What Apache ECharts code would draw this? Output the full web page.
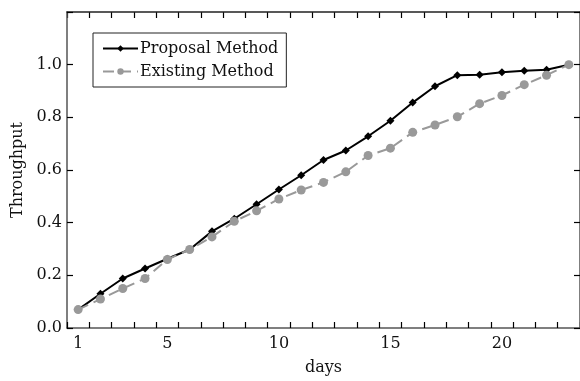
<!DOCTYPE html>
<html>
<head>
<meta charset="utf-8">
<script src="https://cdn.jsdelivr.net/npm/echarts@6/dist/echarts.min.js"></script>
<style>html,body{margin:0;padding:0;background:#fff}#c{width:580px;height:381px}</style>
</head>
<body>
<div id="c"></div>
<script>
const days = ['1','2','3','4','5','6','7','8','9','10','11','12','13','14','15','16','17','18','19','20','21','22','23'];
const xTickLabels = ['1','5','10','15','20'];
const proposal = [0.07,0.13,0.188,0.226,0.263,0.298,0.367,0.415,0.47,0.526,0.58,0.638,0.674,0.728,0.787,0.856,0.918,0.96,0.962,0.971,0.977,0.981,1.0];
const existing = [0.07,0.11,0.15,0.188,0.26,0.298,0.346,0.405,0.445,0.49,0.524,0.553,0.593,0.655,0.683,0.743,0.771,0.802,0.852,0.883,0.924,0.96,1.0];

const FONT = 'DejaVu Serif';
const axisCol = '#555';
const chart = echarts.init(document.getElementById('c'), null, {renderer:'canvas'});
chart.setOption({
  animation: false,
  backgroundColor: '#fff',
  textStyle: {fontFamily: FONT},
  grid: [
    {left: 67, right: 0, top: 12, bottom: 50, containLabel: false},
    {left: 67, right: 0, top: 12, height: 6, containLabel: false}
  ],
  legend: {
    orient: 'vertical', left: 93, top: 33,
    padding: [6, 8, 6, 9],
    itemGap: 4, itemWidth: 35, itemHeight: 8,
    borderColor: '#222', borderWidth: 1,
    textStyle: {fontFamily: FONT, fontSize: 16, color: '#111', lineHeight: 19, padding: [0,0,0,-3]},
    data: ['Proposal Method', 'Existing Method']
  },
  xAxis: [{
    gridIndex: 0,
    type: 'category', data: days, boundaryGap: true,
    name: 'days', nameLocation: 'middle', nameGap: 32,
    nameTextStyle: {fontFamily: FONT, fontSize: 16, color: '#111'},
    axisLine: {onZero: false, lineStyle: {color: axisCol, width: 1.5}},
    axisTick: {show: true, inside: true, length: 6, interval: 0, lineStyle: {color: '#000', width: 1.2}},
    axisLabel: {
      interval: function(i, v){ return xTickLabels.indexOf(v) >= 0; },
      fontFamily: FONT, fontSize: 16, color: '#111', margin: 8
    },
    splitLine: {show: false}
  },{
    gridIndex: 1,
    type: 'category', data: days, boundaryGap: true, position: 'top',
    axisLine: {show: true, onZero: false, lineStyle: {color: '#222', width: 1.5}},
    axisTick: {show: false},
    axisLabel: {show: false},
    splitLine: {show: true, interval: 0, lineStyle: {color: '#000', width: 1.2}}
  }],
  yAxis: [{
    gridIndex: 0,
    type: 'value', min: 0, max: 1.2, interval: 0.2,
    name: 'Throughput', nameLocation: 'middle', nameGap: 40,
    nameTextStyle: {fontFamily: FONT, fontSize: 16, color: '#111'},
    axisLine: {show: true, onZero: false, lineStyle: {color: axisCol, width: 1.5}},
    axisTick: {show: true, inside: true, length: 6, lineStyle: {color: '#000', width: 1.2}},
    axisLabel: {
      fontFamily: FONT, fontSize: 16, color: '#111', margin: 5,
      formatter: function(v){ return v > 1.1 ? '' : v.toFixed(1); }
    },
    splitLine: {show: false}
  },{
    gridIndex: 0,
    type: 'value', min: 0, max: 1.2, interval: 0.2, position: 'right',
    axisLine: {show: true, onZero: false, lineStyle: {color: axisCol, width: 1.5}},
    axisTick: {show: true, inside: true, length: 6, lineStyle: {color: '#000', width: 1.2}},
    axisLabel: {show: false}, splitLine: {show: false}
  },{
    gridIndex: 1, type: 'value', show: false
  }],
  series: [{
    name: 'Proposal Method', type: 'line', data: proposal,
    xAxisIndex: 0, yAxisIndex: 0,
    symbol: 'diamond', symbolSize: 8,
    itemStyle: {color: '#000'},
    lineStyle: {color: '#000', width: 2}
  },{
    name: 'Existing Method', type: 'line', data: existing,
    xAxisIndex: 0, yAxisIndex: 0,
    symbol: 'circle', symbolSize: 9,
    itemStyle: {color: '#999'},
    lineStyle: {color: '#999', width: 2, type: [11, 6]}
  }]
});
</script>
</body>
</html>
